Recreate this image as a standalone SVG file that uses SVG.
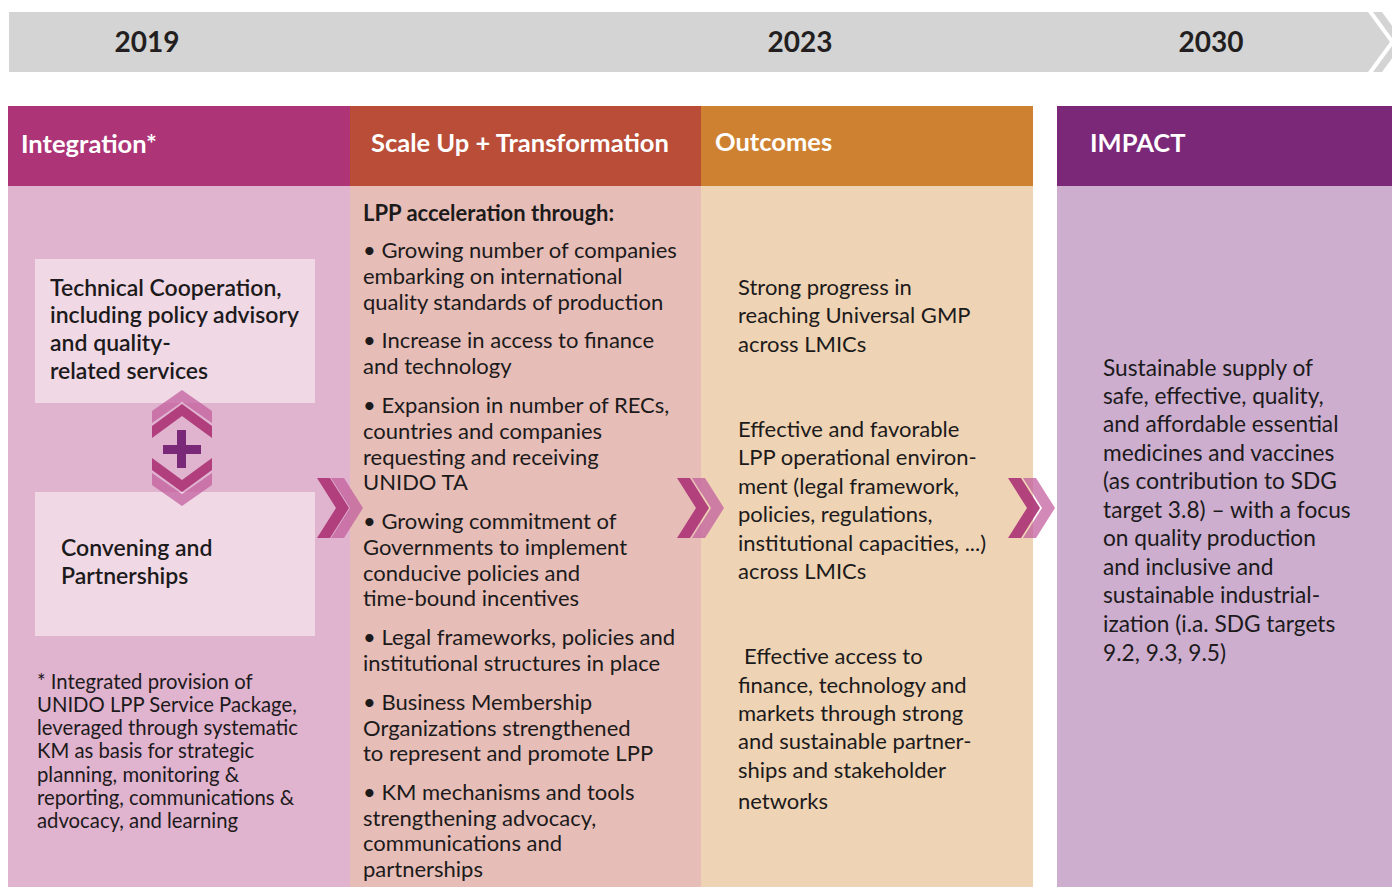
<svg xmlns="http://www.w3.org/2000/svg" width="1392" height="887" viewBox="0 0 1392 887">
<style>
text{font-family:Lato,"Open Sans","Liberation Sans",sans-serif;fill:#1c1a1b}
.yr{font-size:28px;font-weight:700;text-anchor:middle;fill:#231f20}
.hd{font-size:25.5px;font-weight:700;fill:#fff}
.bx{font-size:23px;font-weight:600}
.t{font-size:22px}
.i{font-size:22.7px}
.fn{font-size:20.3px}
.dk{fill:#ad3577;opacity:.92}
.lt{fill:#c05c9c;opacity:.72}
</style>
<g id="timeline">
<polygon points="9,12 1368,12 1390,42 1368,72 9,72" fill="#d4d4d4"/>
<polygon points="1373,12 1382,12 1404,42 1382,72 1373,72 1395,42" fill="#d4d4d4"/>
<text class="yr" x="147" y="52">2019</text>
<text class="yr" x="800" y="52">2023</text>
<text class="yr" x="1211" y="52">2030</text>
</g>
<g id="integration">
<rect x="8" y="106" width="342" height="80" fill="#ad3577"/>
<rect x="8" y="186" width="342" height="701" fill="#e0b3ce"/>
<text class="hd" x="21" y="153">Integration*</text>
<text class="fn" x="37" y="689">* Integrated provision of</text>
<text class="fn" x="37" y="712">UNIDO LPP Service Package,</text>
<text class="fn" x="37" y="735">leveraged through systematic</text>
<text class="fn" x="37" y="758">KM as basis for strategic</text>
<text class="fn" x="37" y="782">planning, monitoring &amp;</text>
<text class="fn" x="37" y="805">reporting, communications &amp;</text>
<text class="fn" x="37" y="828">advocacy, and learning</text>
</g>
<g id="technical-cooperation">
<rect x="35" y="259" width="280" height="144" fill="#f0d8e5"/>
<text class="bx" x="50" y="296">Technical Cooperation,</text>
<text class="bx" x="50" y="323">including policy advisory</text>
<text class="bx" x="50" y="351">and quality-</text>
<text class="bx" x="50" y="379">related services</text>
</g>
<g id="convening">
<rect x="35" y="492" width="280" height="144" fill="#f0d8e5"/>
<text class="bx" x="61" y="556">Convening and</text>
<text class="bx" x="61" y="584">Partnerships</text>
</g>
<g id="plus-icon">
<polygon class="lt" points="152,411 182,390 212,411 212,423 182,402 152,423"/>
<polygon class="dk" points="152,426 182,404 212,426 212,438 182,416 152,438"/>
<rect x="177" y="430" width="9" height="38" fill="#7a2878"/>
<rect x="163" y="445" width="38" height="9" fill="#7a2878"/>
<polygon class="dk" points="152,458 182,480 212,458 212,470 182,492 152,470"/>
<polygon class="lt" points="152,473 182,494 212,473 212,485 182,506 152,485"/>
</g>
<g id="scale-up">
<rect x="350" y="106" width="351" height="80" fill="#b94d38"/>
<rect x="350" y="186" width="351" height="701" fill="#e6beb7"/>
<text class="hd" x="371" y="152">Scale Up + Transformation</text>
<text class="t" x="363" y="221" font-weight="700">LPP acceleration through:</text>
<text class="t" x="363" y="258">• Growing number of companies</text>
<text class="t" x="363" y="284">embarking on international</text>
<text class="t" x="363" y="310">quality standards of production</text>
<text class="t" x="363" y="348">• Increase in access to finance</text>
<text class="t" x="363" y="374">and technology</text>
<text class="t" x="363" y="413">• Expansion in number of RECs,</text>
<text class="t" x="363" y="439">countries and companies</text>
<text class="t" x="363" y="465">requesting and receiving</text>
<text class="t" x="363" y="490">UNIDO TA</text>
<text class="t" x="363" y="529">• Growing commitment of</text>
<text class="t" x="363" y="555">Governments to implement</text>
<text class="t" x="363" y="581">conducive policies and</text>
<text class="t" x="363" y="606">time-bound incentives</text>
<text class="t" x="363" y="645">• Legal frameworks, policies and</text>
<text class="t" x="363" y="671">institutional structures in place</text>
<text class="t" x="363" y="710">• Business Membership</text>
<text class="t" x="363" y="736">Organizations strengthened</text>
<text class="t" x="363" y="761">to represent and promote LPP</text>
<text class="t" x="363" y="800">• KM mechanisms and tools</text>
<text class="t" x="363" y="826">strengthening advocacy,</text>
<text class="t" x="363" y="851">communications and</text>
<text class="t" x="363" y="877">partnerships</text>
</g>
<g id="outcomes">
<rect x="701" y="106" width="332" height="80" fill="#ce8231"/>
<rect x="701" y="186" width="332" height="701" fill="#eed3b4"/>
<text class="hd" x="715" y="151">Outcomes</text>
<text class="t" x="738" y="295">Strong progress in</text>
<text class="t" x="738" y="323">reaching Universal GMP</text>
<text class="t" x="738" y="352">across LMICs</text>
<text class="t" x="738" y="437">Effective and favorable</text>
<text class="t" x="738" y="465">LPP operational environ-</text>
<text class="t" x="738" y="494">ment (legal framework,</text>
<text class="t" x="738" y="522">policies, regulations,</text>
<text class="t" x="738" y="551">institutional capacities, ...)</text>
<text class="t" x="738" y="579">across LMICs</text>
<text class="t" x="744" y="664">Effective access to</text>
<text class="t" x="738" y="693">finance, technology and</text>
<text class="t" x="738" y="721">markets through strong</text>
<text class="t" x="738" y="749">and sustainable partner-</text>
<text class="t" x="738" y="778">ships and stakeholder</text>
<text class="t" x="738" y="809">networks</text>
</g>
<g id="impact">
<rect x="1057" y="106" width="335" height="80" fill="#7b2879"/>
<rect x="1057" y="186" width="335" height="701" fill="#cdaecf"/>
<text class="hd" x="1090" y="152">IMPACT</text>
<text class="i" x="1103" y="376">Sustainable supply of</text>
<text class="i" x="1103" y="404">safe, effective, quality,</text>
<text class="i" x="1103" y="432">and affordable essential</text>
<text class="i" x="1103" y="461">medicines and vaccines</text>
<text class="i" x="1103" y="489">(as contribution to SDG</text>
<text class="i" x="1103" y="518">target 3.8) – with a focus</text>
<text class="i" x="1103" y="546">on quality production</text>
<text class="i" x="1103" y="575">and inclusive and</text>
<text class="i" x="1103" y="603">sustainable industrial-</text>
<text class="i" x="1103" y="632">ization (i.a. SDG targets</text>
<text class="i" x="1103" y="661">9.2, 9.3, 9.5)</text>
</g>
<g id="connectors">
<polygon class="dk" points="317,478 330,478 349,508 330,538 317,538 336,508"/>
<polygon class="lt" points="331,478 344,478 363,508 344,538 331,538 350,508"/>
<polygon class="dk" points="677,478 690,478 709,508 690,538 677,538 696,508"/>
<polygon class="lt" points="692,478 705,478 724,508 705,538 692,538 711,508"/>
<polygon class="dk" points="1008,478 1021,478 1040,508 1021,538 1008,538 1027,508"/>
<polygon class="lt" points="1023,478 1036,478 1055,508 1036,538 1023,538 1042,508"/>
</g>
</svg>
